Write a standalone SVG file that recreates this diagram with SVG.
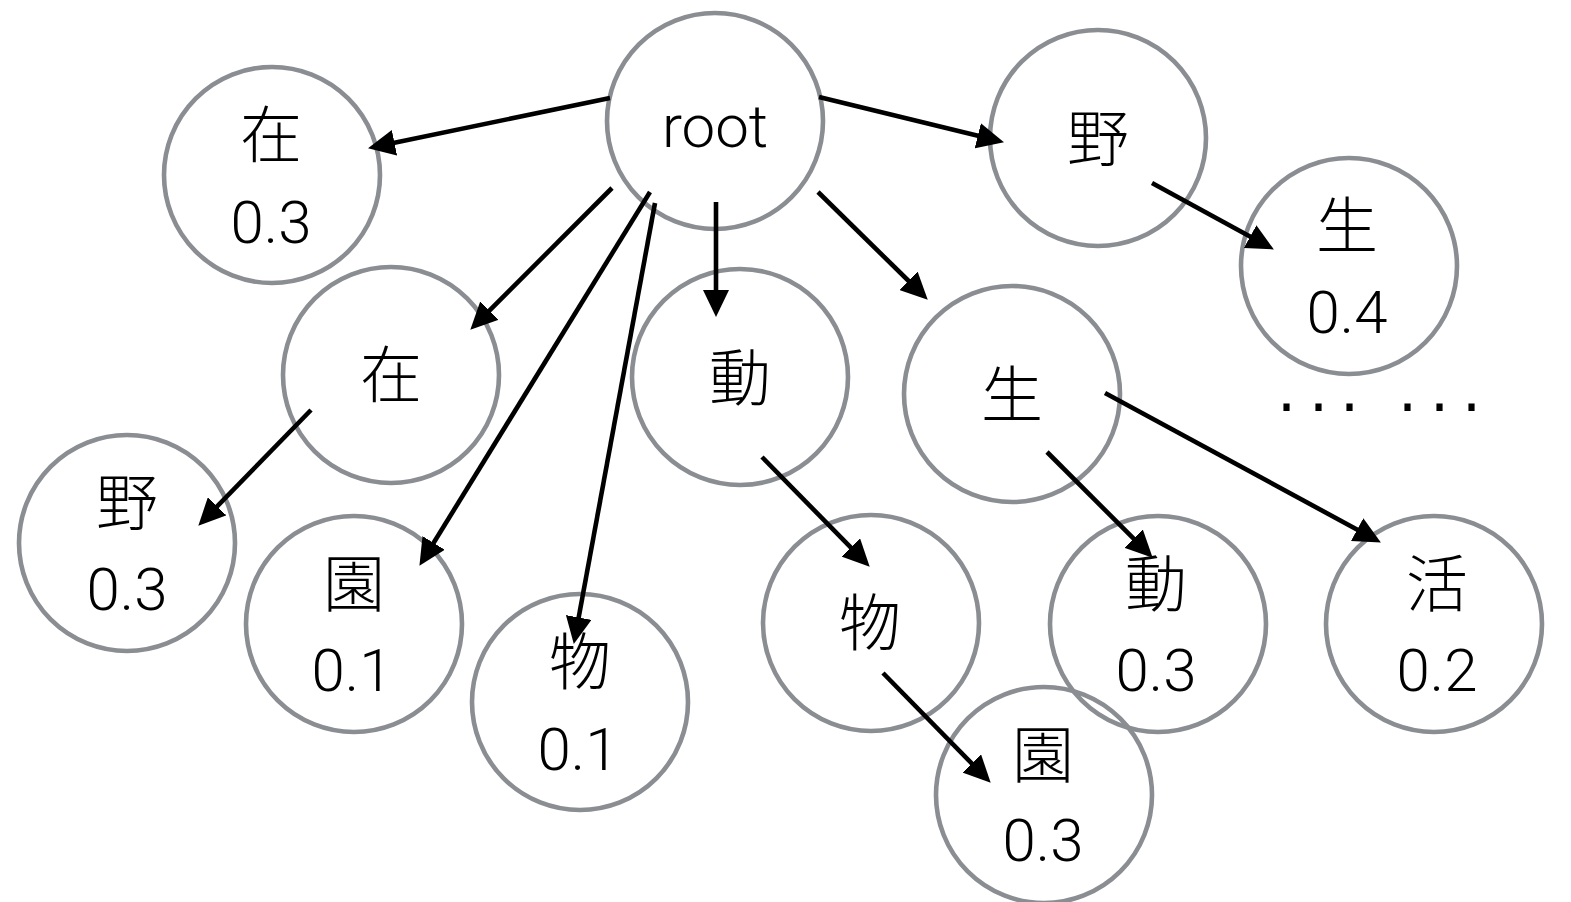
<svg xmlns="http://www.w3.org/2000/svg" width="1571" height="902" viewBox="0 0 1571 902">
  <style>
    .node circle { fill: none; stroke: #8a8d91; stroke-width: 4.6; }
    .kanji { font-family: "Noto Sans CJK JP", "Noto Sans CJK SC", sans-serif; font-size: 62px; font-weight: 300; fill: #000; text-anchor: middle; }
    .num { font-family: Roboto, "Liberation Sans", sans-serif; font-size: 60px; font-weight: 300; fill: #000; text-anchor: middle; }
    .edges line { stroke: #000; stroke-width: 4.6; marker-end: url(#head); }
    .more { font-family: "DejaVu Sans", sans-serif; font-size: 60px; fill: #000; }
  </style>
  <defs>
    <marker id="head" markerUnits="userSpaceOnUse" markerWidth="27" markerHeight="26" refX="16" refY="13" orient="auto">
      <path d="M0,0 L27,13 L0,26 Z" fill="#000"/>
    </marker>
  </defs>
  <rect width="1571" height="902" fill="#fff"/>

  <!-- tree nodes -->
  <g id="root" class="node">
    <circle cx="715" cy="121" r="108"/>
    <text class="num" x="715" y="147">root</text>
  </g>
  <g id="zai-a" class="node">
    <circle cx="272" cy="175" r="108"/>
    <text class="kanji" x="271" y="158">在</text>
    <text class="num" x="271" y="243">0.3</text>
  </g>
  <g id="ye-a" class="node">
    <circle cx="1098" cy="138" r="108"/>
    <text class="kanji" x="1098" y="162">野</text>
  </g>
  <g id="sheng-a" class="node">
    <circle cx="1349" cy="266" r="108"/>
    <text class="kanji" x="1347" y="249">生</text>
    <text class="num" x="1347" y="333">0.4</text>
  </g>
  <g id="zai-b" class="node">
    <circle cx="391" cy="375" r="108"/>
    <text class="kanji" x="391" y="398">在</text>
  </g>
  <g id="dong-a" class="node">
    <circle cx="740" cy="377" r="108"/>
    <text class="kanji" x="740" y="401">動</text>
  </g>
  <g id="sheng-b" class="node">
    <circle cx="1012" cy="394" r="108"/>
    <text class="kanji" x="1012" y="418">生</text>
  </g>
  <g id="ye-b" class="node">
    <circle cx="127" cy="543" r="108"/>
    <text class="kanji" x="127" y="526">野</text>
    <text class="num" x="127" y="610">0.3</text>
  </g>
  <g id="yuan-a" class="node">
    <circle cx="354" cy="624" r="108"/>
    <text class="kanji" x="354" y="607">園</text>
    <text class="num" x="352" y="691">0.1</text>
  </g>
  <g id="wu-a" class="node">
    <circle cx="580" cy="702" r="108"/>
    <text class="kanji" x="580" y="685">物</text>
    <text class="num" x="578" y="770">0.1</text>
  </g>
  <g id="wu-b" class="node">
    <circle cx="871" cy="623" r="108"/>
    <text class="kanji" x="870" y="646">物</text>
  </g>
  <g id="dong-b" class="node">
    <circle cx="1158" cy="624" r="108"/>
    <text class="kanji" x="1156" y="607">動</text>
    <text class="num" x="1156" y="691">0.3</text>
  </g>
  <g id="huo" class="node">
    <circle cx="1434" cy="624" r="108"/>
    <text class="kanji" x="1437" y="607">活</text>
    <text class="num" x="1437" y="691">0.2</text>
  </g>
  <g id="yuan-b" class="node">
    <circle cx="1044" cy="795" r="108"/>
    <text class="kanji" x="1043" y="778">園</text>
    <text class="num" x="1043" y="861">0.3</text>
  </g>

  <!-- continuation marks -->
  <text class="more" x="1277 1309 1340 1370 1398 1430 1462" y="411">... ...</text>

  <!-- connectors -->
  <g id="edges" class="edges">
    <line x1="610" y1="98" x2="378.8" y2="146.0"/>
    <line x1="819" y1="97" x2="993.3" y2="139.6"/>
    <line x1="1152" y1="183" x2="1264.2" y2="244.2"/>
    <line x1="612" y1="188" x2="478.1" y2="321.9"/>
    <line x1="650" y1="192" x2="425.2" y2="556.5"/>
    <line x1="655" y1="203" x2="575.8" y2="633.2"/>
    <line x1="716" y1="202" x2="716" y2="306"/>
    <line x1="818" y1="192" x2="919.9" y2="292.0"/>
    <line x1="311" y1="410" x2="206.0" y2="517.8"/>
    <line x1="762" y1="457" x2="862.0" y2="558.9"/>
    <line x1="883" y1="673" x2="983.0" y2="774.9"/>
    <line x1="1047" y1="452" x2="1144.9" y2="549.9"/>
    <line x1="1105" y1="393" x2="1371.2" y2="537.2"/>
  </g>
</svg>
